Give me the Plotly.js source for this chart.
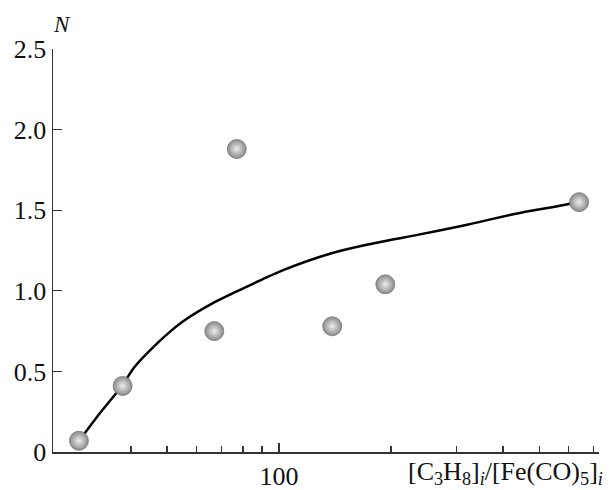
<!DOCTYPE html>
<html>
<head>
<meta charset="utf-8">
<script src="https://cdn.plot.ly/plotly-3.0.1.min.js"></script>
<style>html,body{margin:0;padding:0;background:#fff;}#chart{width:613px;height:490px;}</style>
</head>
<body>
<div id="chart"></div>
<script>
// Data points: ratio [C3H8]i/[Fe(CO)5]i vs N
const ratioX = [29, 38, 67, 77, 139, 193, 640];
const valueN = [0.07, 0.41, 0.75, 1.88, 0.78, 1.04, 1.55];

// Fitted curve
const curveX = [29, 33, 37.8, 41, 45, 50, 56, 66.6, 77, 90, 103, 137, 180, 239, 320, 426, 605, 640];
const curveN = [0.068, 0.24, 0.41, 0.53, 0.63, 0.73, 0.82, 0.925, 0.996, 1.07, 1.13, 1.23, 1.295, 1.35, 1.41, 1.475, 1.54, 1.555];

const yTickVals = [0, 0.5, 1.0, 1.5, 2.0, 2.5];
const yTickText = ['0', '0.5', '1.0', '1.5', '2.0', '2.5'];
const xMajorTicks = [100];
const xMajorText = ['100'];
const xMinorTicks = [40, 50, 60, 70, 80, 90, 200, 300, 400, 500, 600, 700];

const font = {family: 'Liberation Serif', size: 26, color: '#111'};

const traces = [
  {
    x: curveX, y: curveN, type: 'scatter', mode: 'lines',
    line: {color: '#000', width: 2.5, shape: 'spline', smoothing: 1},
    hoverinfo: 'skip', showlegend: false
  },
  {
    x: ratioX, y: valueN, type: 'scatter', mode: 'markers',
    marker: {size: 19, color: '#8a8a8a', gradient: {type: 'radial', color: '#ededed'},
             line: {color: '#777', width: 0.8}},
    showlegend: false
  }
];

const layout = {
  width: 613, height: 490,
  margin: {l: 53, r: 14, t: 49, b: 38},
  paper_bgcolor: '#fff', plot_bgcolor: '#fff',
  font: font,
  showlegend: false,
  xaxis: {
    type: 'log',
    range: [Math.log10(24.7), Math.log10(724)],
    tickmode: 'array', tickvals: xMajorTicks, ticktext: xMajorText,
    ticks: 'inside', ticklen: 9, tickwidth: 1.3, tickcolor: '#333',
    minor: {tickmode: 'array', tickvals: xMinorTicks, ticks: 'inside', ticklen: 6, tickwidth: 1.3, tickcolor: '#333', showgrid: false},
    showline: true, linecolor: '#333', linewidth: 1.5,
    showgrid: false, zeroline: false,
    tickfont: font
  },
  yaxis: {
    range: [0, 2.5],
    tickmode: 'array', tickvals: yTickVals, ticktext: yTickText,
    ticks: 'inside', ticklen: 9, tickwidth: 1.3, tickcolor: '#333',
    showline: true, linecolor: '#333', linewidth: 1.5,
    showgrid: false, zeroline: false,
    tickfont: font
  },
  annotations: [
    {
      text: '[C<sub>3</sub>H<sub>8</sub>]<sub><i>i</i></sub>/[Fe(CO)<sub>5</sub>]<sub><i>i</i></sub>',
      xref: 'paper', yref: 'paper', x: 1.0, y: 0, xanchor: 'right', yanchor: 'top',
      xshift: 6, yshift: -3, showarrow: false, font: font
    },
    {
      text: '<i>N</i>',
      xref: 'paper', yref: 'paper', x: 0, y: 1, xanchor: 'left', yanchor: 'bottom',
      xshift: -2, yshift: 10, showarrow: false,
      font: {family: 'Liberation Serif', size: 23, color: '#111'}
    }
  ]
};

Plotly.newPlot('chart', traces, layout, {displayModeBar: false, staticPlot: true});
</script>
</body>
</html>
